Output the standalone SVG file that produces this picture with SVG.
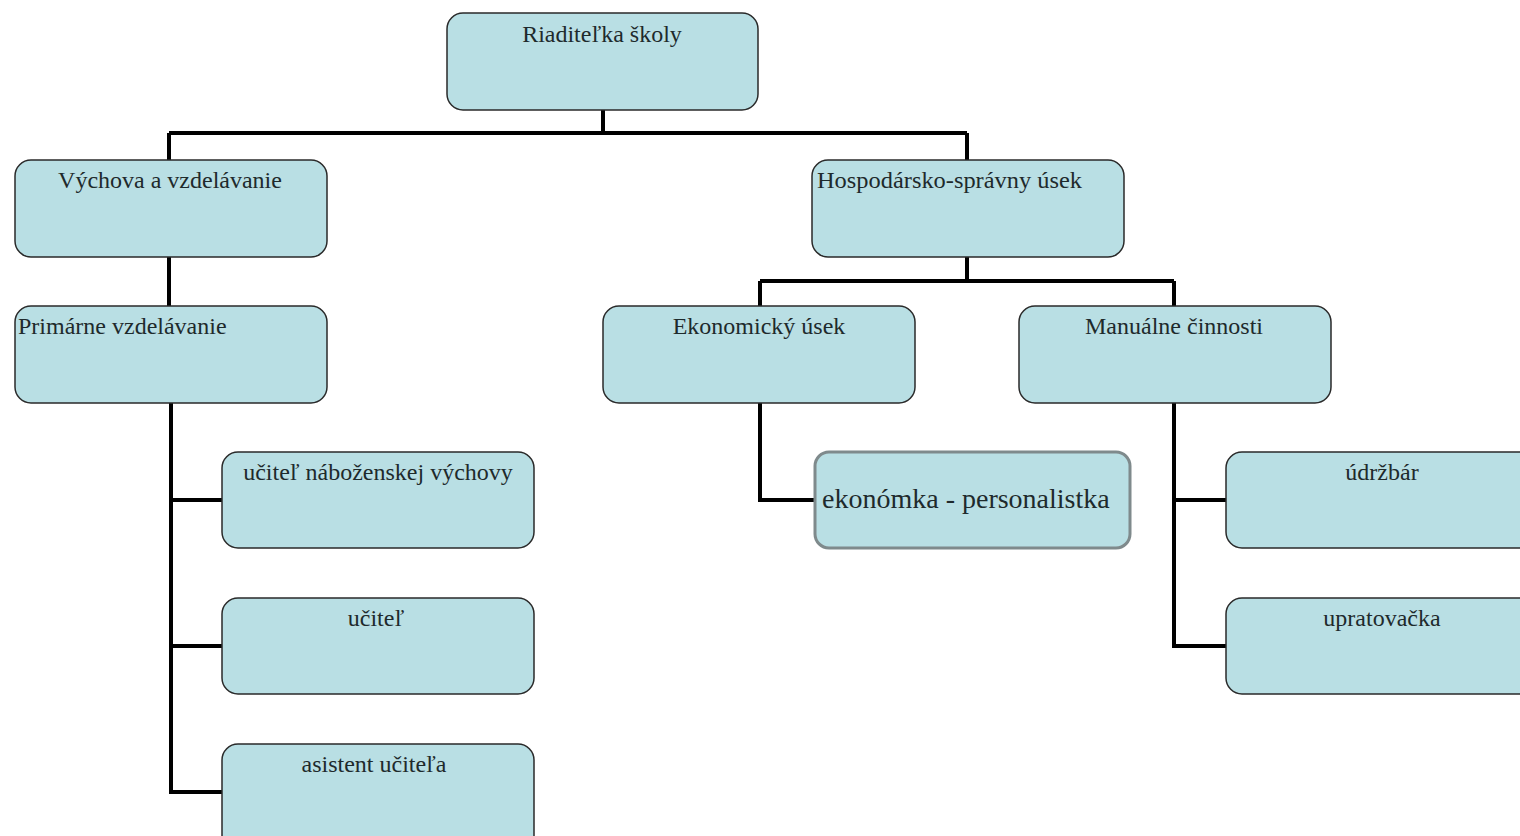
<svg xmlns="http://www.w3.org/2000/svg" width="1520" height="836" viewBox="0 0 1520 836">
<style>
.box{fill:#b9dfe4;stroke:#2a2a2a;stroke-width:1.5}
.box2{fill:#b9dfe4;stroke:#7f8a8c;stroke-width:3}
.t{font-family:"Liberation Serif","Times New Roman",serif;font-size:24px;fill:#1e2a2c}
.c{text-anchor:middle}
.conn{fill:none;stroke:#000;stroke-width:4}
</style>
<rect width="1520" height="836" fill="#fff"/>
<g id="connectors">
<path class="conn" d="M603 110V133M169 133H967M169 133V160M967 133V160"/>
<path class="conn" d="M169 257V306"/>
<path class="conn" d="M967 257V281M760 281H1174M760 281V306M1174 281V306"/>
<path class="conn" d="M171 403V792M169 500H222M169 646H222M169 792H222"/>
<path class="conn" d="M760 403V500H815"/>
<path class="conn" d="M1174 403V646M1172 500H1226M1172 646H1226"/>
</g>
<g id="n-riaditelka"><rect class="box" x="447" y="13" width="311" height="97" rx="16"/><text class="t c" x="602" y="42">Riaditeľka školy</text></g>
<g id="n-vychova"><rect class="box" x="15" y="160" width="312" height="97" rx="16"/><text class="t c" x="170" y="188">Výchova a vzdelávanie</text></g>
<g id="n-hospodarsko"><rect class="box" x="812" y="160" width="312" height="97" rx="16"/><text class="t" x="817" y="188" textLength="265" lengthAdjust="spacingAndGlyphs">Hospodársko-správny úsek</text></g>
<g id="n-primarne"><rect class="box" x="15" y="306" width="312" height="97" rx="16"/><text class="t" x="18" y="334">Primárne vzdelávanie</text></g>
<g id="n-ekonomicky"><rect class="box" x="603" y="306" width="312" height="97" rx="16"/><text class="t c" x="759" y="334">Ekonomický úsek</text></g>
<g id="n-manualne"><rect class="box" x="1019" y="306" width="312" height="97" rx="16"/><text class="t c" x="1174" y="334">Manuálne činnosti</text></g>
<g id="n-nabozenska"><rect class="box" x="222" y="452" width="312" height="96" rx="16"/><text class="t c" x="378" y="480">učiteľ náboženskej výchovy</text></g>
<g id="n-ucitel"><rect class="box" x="222" y="598" width="312" height="96" rx="16"/><text class="t c" x="376" y="626">učiteľ</text></g>
<g id="n-asistent"><rect class="box" x="222" y="744" width="312" height="110" rx="16"/><text class="t c" x="374" y="772">asistent učiteľa</text></g>
<g id="n-ekonomka"><rect class="box2" x="815" y="452" width="315" height="96" rx="14"/><text class="t" x="822" y="508" style="font-size:28px">ekonómka - personalistka</text></g>
<g id="n-udrzbar"><rect class="box" x="1226" y="452" width="312" height="96" rx="16"/><text class="t c" x="1382" y="480">údržbár</text></g>
<g id="n-upratovacka"><rect class="box" x="1226" y="598" width="312" height="96" rx="16"/><text class="t c" x="1382" y="626">upratovačka</text></g>
</svg>
